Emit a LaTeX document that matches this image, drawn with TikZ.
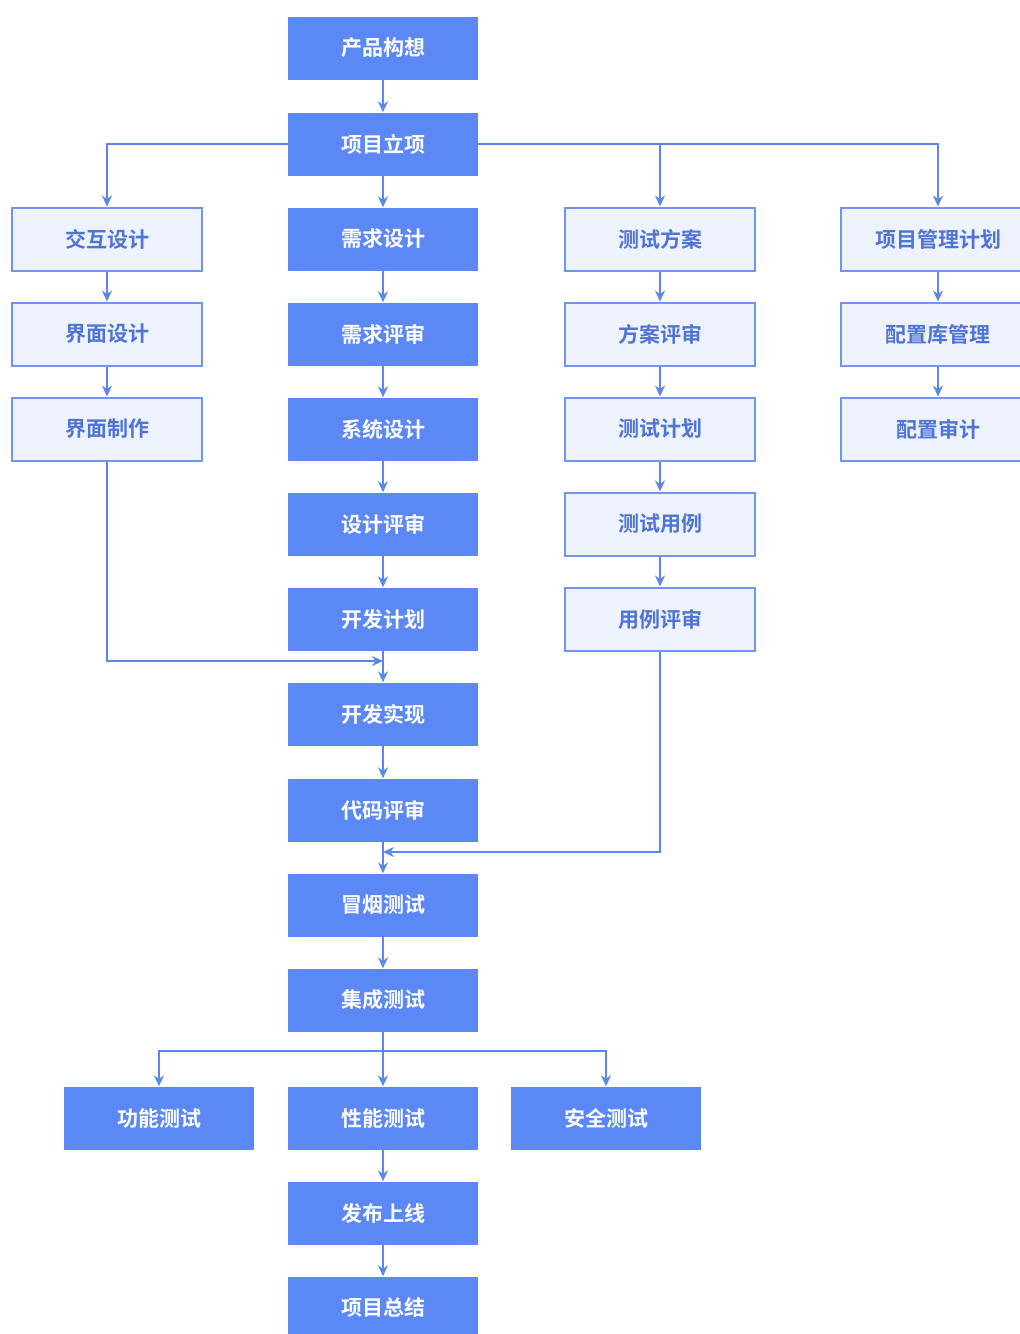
\documentclass[tikz,border=0pt]{standalone}
\usepackage{fontspec}
\newfontfamily\cjk{Noto Sans CJK SC}[BoldFont={Noto Sans CJK SC Bold}]
\usetikzlibrary{arrows.meta}
\definecolor{mainfill}{HTML}{5B88F5}
\definecolor{lightfill}{HTML}{EEF2FC}
\definecolor{lightline}{HTML}{6F96EE}
\definecolor{lighttext}{HTML}{4E74D6}
\definecolor{linkcol}{HTML}{5B86EC}
\tikzset{
  base/.style={rectangle, minimum width=190pt, minimum height=63pt, inner sep=0pt,
    font=\cjk\bfseries\fontsize{21}{23}\selectfont},
  mainbox/.style={base, fill=mainfill, text=white},
  sidebox/.style={base, fill=lightfill, draw=lightline, line width=2pt, text=lighttext},
  link/.style={draw=linkcol, line width=2.6pt, -{Stealth[length=11pt,width=10pt]}},
  wire/.style={draw=linkcol, line width=2.6pt}
}
\begin{document}
\begin{tikzpicture}[x=1pt,y=-1pt]
\useasboundingbox[fill=white] (0,0) rectangle (1020,1334);

% main column
\node[mainbox] (m1) at (383,48) {产品构想};
\node[mainbox] (m2) at (383,144) {项目立项};
\node[mainbox] (m3) at (383,239) {需求设计};
\node[mainbox] (m4) at (383,334) {需求评审};
\node[mainbox] (m5) at (383,429) {系统设计};
\node[mainbox] (m6) at (383,524) {设计评审};
\node[mainbox] (m7) at (383,619) {开发计划};
\node[mainbox] (m8) at (383,714) {开发实现};
\node[mainbox] (m9) at (383,810) {代码评审};
\node[mainbox] (m10) at (383,905) {冒烟测试};
\node[mainbox] (m11) at (383,1000) {集成测试};
\node[mainbox] (m12) at (383,1118) {性能测试};
\node[mainbox] (m13) at (383,1213) {发布上线};
\node[mainbox] (m14) at (383,1308) {项目总结};

% test branches
\node[mainbox] (t1) at (159,1118) {功能测试};
\node[mainbox] (t3) at (606,1118) {安全测试};

% design column
\node[sidebox] (d1) at (107,239) {交互设计};
\node[sidebox] (d2) at (107,334) {界面设计};
\node[sidebox] (d3) at (107,429) {界面制作};

% testing column
\node[sidebox] (q1) at (660,239) {测试方案};
\node[sidebox] (q2) at (660,334) {方案评审};
\node[sidebox] (q3) at (660,429) {测试计划};
\node[sidebox] (q4) at (660,524) {测试用例};
\node[sidebox] (q5) at (660,619) {用例评审};

% management column
\node[sidebox, minimum width=194pt] (p1) at (938,239) {项目管理计划};
\node[sidebox, minimum width=194pt] (p2) at (938,334) {配置库管理};
\node[sidebox, minimum width=194pt] (p3) at (938,429) {配置审计};

% main chain
\foreach \a/\b in {m1/m2,m2/m3,m3/m4,m4/m5,m5/m6,m6/m7,m7/m8,m8/m9,m9/m10,m10/m11,m12/m13,m13/m14}
  \draw[link] (\a) -- (\b);

% side chains
\foreach \a/\b in {d1/d2,d2/d3,q1/q2,q2/q3,q3/q4,q4/q5,p1/p2,p2/p3}
  \draw[link] (\a) -- (\b);

% fan-out from project start
\draw[link] (m2.west) -| (d1.north);
\draw[link] (m2.east) -| (q1.north);
\draw[link] (m2.east) -| (p1.north);

% merges into development
\coordinate (j1) at (383,661);
\draw[link] (d3.south) |- (j1);
\coordinate (j2) at (383,852);
\draw[link] (q5.south) |- (j2);

% fan-out to tests
\coordinate (split) at (383,1051);
\draw[wire] (m11.south) -- (split);
\draw[link] (split) -| (t1.north);
\draw[link] (split) -- (m12.north);
\draw[link] (split) -| (t3.north);
\end{tikzpicture}
\end{document}
